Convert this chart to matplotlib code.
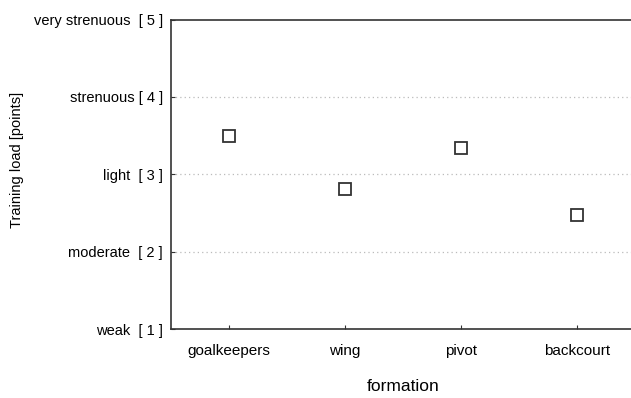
import numpy as np
from matplotlib import pyplot as plt

# training load per formation
formations = ['goalkeepers', 'wing', 'pivot', 'backcourt']
load = [3.50, 2.81, 3.34, 2.48]

levels = [1, 2, 3, 4, 5]
level_names = ['weak  [ 1 ]', 'moderate  [ 2 ]', 'light  [ 3 ]',
               'strenuous [ 4 ]', 'very strenuous  [ 5 ]']

plt.rcParams['font.family'] = ['Liberation Sans', 'DejaVu Sans']

fig = plt.figure(figsize=(6.31, 3.98), dpi=100)
ax = fig.add_axes([0.271, 0.173, 0.735, 0.778])

x = np.arange(len(formations))
ax.plot(x, load, linestyle='none', marker='s', markersize=8.5,
        markerfacecolor='white', markeredgecolor='#333333', markeredgewidth=1.3,
        zorder=3)

ax.set_xlim(-0.5, 3.5)
ax.set_ylim(1, 5)
ax.set_xticks(x)
ax.set_xticklabels(formations, fontsize=11)
ax.set_yticks(levels)
ax.set_yticklabels(level_names, fontsize=10.5)

for lv in levels[1:-1]:
    ax.axhline(lv, color='#bbbbbb', linestyle=(0, (1, 2.5)), linewidth=0.9, zorder=1)

ax.tick_params(axis='x', direction='in', length=3, width=0.8, pad=11, color='#333333')
ax.tick_params(axis='y', direction='in', length=3, width=0.8, pad=6, color='#333333')

for side in ['left', 'bottom', 'top']:
    ax.spines[side].set_color('#333333')
    ax.spines[side].set_linewidth(1.2)
ax.spines['right'].set_visible(False)

ax.set_xlabel('formation', fontsize=12.5, labelpad=15)
ax.set_ylabel('Training load [points]', fontsize=10.5)
ax.yaxis.set_label_coords(-0.317, 0.545)

fig.savefig('out.png', dpi=100)
